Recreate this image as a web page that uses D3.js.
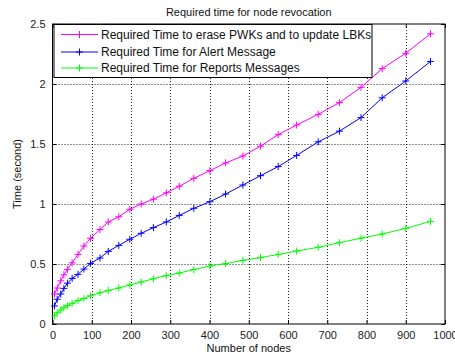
<!DOCTYPE html>
<html>
<head>
<meta charset="utf-8">
<script src="https://cdn.jsdelivr.net/npm/d3@7"></script>
<style>
  html, body { margin: 0; padding: 0; background: #fff; }
  svg { display: block; font-family: "Liberation Sans", Arial, sans-serif; }
</style>
</head>
<body>
<svg id="chart" width="455" height="360"></svg>
<script>
// Number of nodes at each measurement
const nodes = [5, 12, 21, 29, 38, 50, 65, 80, 97, 121, 142, 169, 197, 226, 257, 290, 323, 360, 401, 441, 485, 530, 575, 622, 677, 731, 786, 840, 900, 963];

// Time (s) to erase PWKs and update LBKs
const eraseTimes = [0.25, 0.30, 0.36, 0.41, 0.455, 0.51, 0.58, 0.65, 0.714, 0.787, 0.85, 0.894, 0.956, 1.0, 1.04, 1.093, 1.148, 1.214, 1.278, 1.342, 1.40, 1.482, 1.578, 1.658, 1.747, 1.845, 1.972, 2.128, 2.256, 2.418];

// Time (s) for the alert message
const alertTimes = [0.15, 0.206, 0.25, 0.297, 0.34, 0.38, 0.414, 0.458, 0.505, 0.55, 0.605, 0.655, 0.706, 0.756, 0.803, 0.85, 0.905, 0.964, 1.019, 1.083, 1.158, 1.236, 1.312, 1.405, 1.518, 1.607, 1.72, 1.885, 2.025, 2.188];

// Time (s) for the reports messages
const reportTimes = [0.067, 0.094, 0.117, 0.136, 0.153, 0.172, 0.195, 0.212, 0.235, 0.26, 0.28, 0.30, 0.325, 0.35, 0.377, 0.403, 0.425, 0.453, 0.483, 0.503, 0.53, 0.553, 0.58, 0.608, 0.639, 0.678, 0.715, 0.75, 0.797, 0.855];

const seriesNames = [
  "Required Time to erase PWKs and to update LBKs",
  "Required Time for Alert Message",
  "Required Time for Reports Messages"
];
const seriesColors = ["#ff00ff", "#0000ff", "#00ff00"];

const xTicks = [0, 100, 200, 300, 400, 500, 600, 700, 800, 900, 1000];
const yTicks = [0, 0.5, 1, 1.5, 2, 2.5];

const titleText = "Required time for node revocation";
const xLabel = "Number of nodes";
const yLabel = "Time (second)";

const series = [eraseTimes, alertTimes, reportTimes].map((vals, i) => ({
  name: seriesNames[i],
  color: seriesColors[i],
  points: nodes.map((n, j) => ({ x: n, y: vals[j] }))
}));

const svg = d3.select("#chart");
const pLeft = 52.5, pRight = 445, pTop = 24, pBottom = 324;

const x = d3.scaleLinear().domain([0, 1000]).range([pLeft, pRight]);
const y = d3.scaleLinear().domain([0, 2.5]).range([pBottom, pTop]);

const gridColor = "#222";

// dotted grid
const grid = svg.append("g");
grid.selectAll(".gx").data(xTicks.slice(1, -1)).join("line")
  .attr("x1", d => Math.round(x(d)) + 0.5).attr("x2", d => Math.round(x(d)) + 0.5)
  .attr("y1", pTop).attr("y2", pBottom)
  .attr("stroke", gridColor).attr("stroke-width", 1).attr("stroke-dasharray", "1,2");
grid.selectAll(".gy").data(yTicks.slice(1, -1)).join("line")
  .attr("y1", d => Math.round(y(d)) + 0.5).attr("y2", d => Math.round(y(d)) + 0.5)
  .attr("x1", pLeft).attr("x2", pRight)
  .attr("stroke", gridColor).attr("stroke-width", 1).attr("stroke-dasharray", "1,2");

// axes with inward ticks
const fontSize = 11;
const xAxis = d3.axisBottom(x).tickValues(xTicks).tickFormat(d3.format("d")).tickSizeInner(-4).tickSizeOuter(0).tickPadding(7);
const yAxis = d3.axisLeft(y).tickValues(yTicks).tickFormat(d => String(d)).tickSizeInner(-4).tickSizeOuter(0).tickPadding(7);
const xTopAxis = d3.axisTop(x).tickValues(xTicks).tickFormat("").tickSizeInner(-4).tickSizeOuter(0);
const yRightAxis = d3.axisRight(y).tickValues(yTicks).tickFormat("").tickSizeInner(-4).tickSizeOuter(0);

function styleAxis(g) {
  g.select(".domain").remove();
  g.selectAll("line").attr("stroke", "#000");
  g.selectAll("text").attr("fill", "#222").style("font-size", fontSize + "px")
    .style("font-family", "'Liberation Sans', Arial, sans-serif");
}
svg.append("g").attr("transform", `translate(0,${pBottom})`).call(xAxis).call(styleAxis);
svg.append("g").attr("transform", `translate(${pLeft},0)`).call(yAxis).call(styleAxis);
svg.append("g").attr("transform", `translate(0,${pTop})`).call(xTopAxis).call(styleAxis);
svg.append("g").attr("transform", `translate(${pRight},0)`).call(yRightAxis).call(styleAxis);

// plot box
svg.append("rect").attr("x", pLeft).attr("y", pTop).attr("width", pRight - pLeft).attr("height", pBottom - pTop)
  .attr("fill", "none").attr("stroke", "#000").attr("stroke-width", 1);

// series lines and plus markers
const line = d3.line().x(d => x(d.x)).y(d => y(d.y));
const m = 3.5;
series.forEach(s => {
  const g = svg.append("g");
  g.append("path").datum(s.points).attr("d", line)
    .attr("fill", "none").attr("stroke", s.color).attr("stroke-width", 1);
  g.selectAll("path.mk").data(s.points).join("path").attr("class", "mk")
    .attr("d", d => `M${x(d.x) - m},${y(d.y)}H${x(d.x) + m}M${x(d.x)},${y(d.y) - m}V${y(d.y) + m}`)
    .attr("stroke", s.color).attr("stroke-width", 1).attr("fill", "none");
});

// legend
const lg = svg.append("g");
lg.append("rect").attr("x", 54).attr("y", 24.5).attr("width", 318).attr("height", 53)
  .attr("fill", "#fff").attr("stroke", "#000").attr("stroke-width", 1);
const rowY = [34.5, 52, 68];
series.forEach((s, i) => {
  const yy = rowY[i];
  lg.append("line").attr("x1", 61).attr("x2", 98).attr("y1", yy).attr("y2", yy)
    .attr("stroke", s.color).attr("stroke-width", 1);
  lg.append("path").attr("d", `M${79.5 - m},${yy}H${79.5 + m}M79.5,${yy - m}V${yy + m}`)
    .attr("stroke", s.color).attr("stroke-width", 1);
  lg.append("text").attr("x", 101).attr("y", yy + 4.3).text(s.name)
    .attr("fill", "#111").style("font-size", "12px");
});

// titles
svg.append("text").attr("x", (pLeft + pRight) / 2).attr("y", 16).attr("text-anchor", "middle")
  .style("font-size", "11px").attr("fill", "#111").text(titleText);
svg.append("text").attr("x", (pLeft + pRight) / 2).attr("y", 352).attr("text-anchor", "middle")
  .style("font-size", "11px").attr("fill", "#111").text(xLabel);
svg.append("text").attr("transform", `translate(21,${(pTop + pBottom) / 2}) rotate(-90)`)
  .attr("text-anchor", "middle").style("font-size", "11px").attr("fill", "#111").text(yLabel);
</script>
</body>
</html>
